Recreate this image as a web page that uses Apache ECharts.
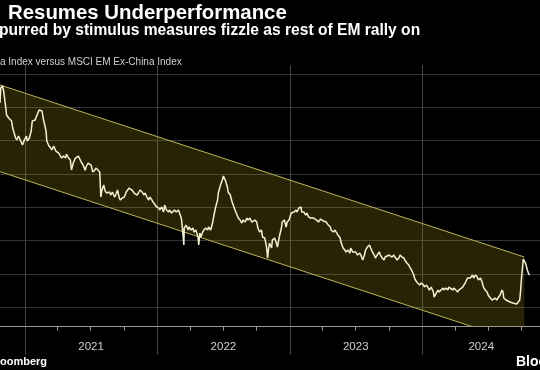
<!DOCTYPE html>
<html><head><meta charset="utf-8">
<script src="https://cdn.jsdelivr.net/npm/echarts@6/dist/echarts.min.js"></script>
<style>html,body{margin:0;padding:0;background:#000;}#c{width:540px;height:370px;}</style>
</head><body><div id="c"></div>
<script>
// ---- text ----
const titleText = 'Resumes Underperformance';
const subtitleText = 'purred by stimulus measures fizzle as rest of EM rally on';
const noteText = 'a Index versus MSCI EM Ex-China Index';
const sourceText = 'oomberg';
const brandText = 'Bloomberg';

// ---- axes ----
const axisStart = '2020-10-24';
const axisEnd = '2024-11-21';
const yearStarts = ['2021-01-01', '2022-01-01', '2023-01-01', '2024-01-01'];
const quarterTicks = ['2021-04-01', '2021-07-01', '2021-10-01', '2022-04-01', '2022-07-01', '2022-10-01',
  '2023-04-01', '2023-07-01', '2023-10-01', '2024-04-01', '2024-07-01', '2024-10-01'];
const yearLabelAt = ['2021-07-02', '2022-07-02', '2023-07-02', '2024-06-12'];
const gridValues = [1, 2, 3, 4, 5, 6, 7, 8];
const yMin = 0.42;
const yMax = 8.27;

// ---- trend channel ----
const bandDates = ['2020-10-24', '2024-10-09'];
const bandLower = [5.07, -0.09];
const bandUpper = [7.67, 2.51];

// ---- MSCI China vs MSCI EM ex-China (relative) ----
const dates = [
  '2020-10-24','2020-10-26','2020-10-31','2020-11-03','2020-11-09','2020-11-11','2020-11-17','2020-11-25','2020-11-28','2020-12-06',
  '2020-12-09','2020-12-14','2020-12-19','2020-12-25','2020-12-30',
  '2021-01-05','2021-01-07','2021-01-13','2021-01-18','2021-01-21','2021-01-29','2021-02-03','2021-02-09','2021-02-17','2021-02-20',
  '2021-02-28','2021-03-02','2021-03-08','2021-03-13','2021-03-16','2021-03-21','2021-03-27','2021-04-04','2021-04-12','2021-04-17',
  '2021-04-23','2021-04-25','2021-05-01','2021-05-06','2021-05-09','2021-05-14','2021-05-20','2021-05-28',
  '2021-06-02','2021-06-05','2021-06-10','2021-06-16','2021-06-18','2021-06-24','2021-06-29','2021-07-02','2021-07-07','2021-07-13',
  '2021-07-15','2021-07-21','2021-07-26','2021-07-29','2021-08-01','2021-08-06','2021-08-09','2021-08-14','2021-08-22','2021-08-25',
  '2021-08-30','2021-09-05','2021-09-08','2021-09-13','2021-09-18','2021-09-21','2021-09-26','2021-10-02','2021-10-07','2021-10-15',
  '2021-10-18','2021-10-23','2021-10-29','2021-11-01','2021-11-06','2021-11-11','2021-11-14','2021-11-20','2021-11-25','2021-11-28',
  '2021-12-03','2021-12-08','2021-12-11','2021-12-17','2021-12-22','2021-12-30',
  '2022-01-05','2022-01-07','2022-01-13','2022-01-18','2022-01-21','2022-01-26','2022-02-01','2022-02-03','2022-02-09','2022-02-14',
  '2022-02-17','2022-02-22','2022-02-28','2022-03-02','2022-03-08','2022-03-11','2022-03-15','2022-03-16','2022-03-21','2022-03-27',
  '2022-03-29','2022-04-04','2022-04-09','2022-04-12','2022-04-17','2022-04-23','2022-04-25','2022-04-28','2022-05-01','2022-05-06',
  '2022-05-09','2022-05-14','2022-05-20','2022-05-22','2022-05-28','2022-06-02','2022-06-05','2022-06-10','2022-06-16','2022-06-18',
  '2022-06-24','2022-06-29','2022-07-02','2022-07-07','2022-07-13','2022-07-15','2022-07-21','2022-07-26','2022-08-03',
  '2022-08-12','2022-08-17','2022-08-22','2022-08-25','2022-08-31','2022-09-05','2022-09-08','2022-09-13','2022-09-18','2022-09-21',
  '2022-09-27','2022-10-02','2022-10-05','2022-10-10','2022-10-15','2022-10-18','2022-10-24','2022-10-29','2022-11-01','2022-11-03',
  '2022-11-06','2022-11-12','2022-11-14','2022-11-20','2022-11-25','2022-11-28','2022-12-03','2022-12-09','2022-12-11','2022-12-17',
  '2022-12-22','2022-12-25','2022-12-30','2023-01-05','2023-01-07','2023-01-13','2023-01-18','2023-01-21','2023-01-26','2023-02-01',
  '2023-02-03','2023-02-09','2023-02-14','2023-02-17','2023-02-22','2023-02-28','2023-03-08',
  '2023-03-16','2023-03-21','2023-03-27','2023-04-04','2023-04-12','2023-04-17','2023-04-23','2023-04-25','2023-05-01','2023-05-06',
  '2023-05-09','2023-05-14','2023-05-20','2023-05-22','2023-05-28','2023-06-02','2023-06-05','2023-06-10','2023-06-16','2023-06-18',
  '2023-06-24','2023-06-29','2023-07-02','2023-07-07','2023-07-13','2023-07-16','2023-07-21','2023-07-26','2023-07-29','2023-08-03',
  '2023-08-09','2023-08-12','2023-08-17','2023-08-22','2023-08-25','2023-08-30','2023-09-05','2023-09-08','2023-09-13','2023-09-18',
  '2023-09-21','2023-10-02','2023-10-10',
  '2023-10-15','2023-10-18','2023-10-24','2023-10-29','2023-11-01','2023-11-06','2023-11-12','2023-11-14','2023-11-20','2023-11-25',
  '2023-11-28','2023-12-03','2023-12-09','2023-12-11','2023-12-17','2023-12-22','2023-12-25','2023-12-30','2024-01-05','2024-01-07',
  '2024-01-13','2024-01-18','2024-01-21','2024-01-26','2024-02-01','2024-02-03','2024-02-09','2024-02-14','2024-02-17','2024-02-22',
  '2024-02-28','2024-03-01','2024-03-07','2024-03-12','2024-03-15','2024-03-20','2024-03-26','2024-03-28','2024-04-03','2024-04-08',
  '2024-04-11','2024-04-16','2024-04-22','2024-04-25','2024-04-30','2024-05-05','2024-05-08','2024-05-13',
  '2024-05-19','2024-05-22','2024-05-27','2024-06-01','2024-06-04','2024-06-10','2024-06-15','2024-06-18','2024-06-23','2024-06-28',
  '2024-07-01','2024-07-07','2024-07-12','2024-07-15','2024-07-20','2024-07-25','2024-07-28','2024-08-03','2024-08-08','2024-08-11',
  '2024-08-13','2024-08-19','2024-08-24','2024-08-30','2024-09-04','2024-09-07','2024-09-12','2024-09-18','2024-09-20','2024-09-26',
  '2024-09-28','2024-10-01','2024-10-04','2024-10-06','2024-10-09','2024-10-12','2024-10-15','2024-10-17','2024-10-20','2024-10-23'
];
const ratio = [
  7.13,7.58,7.64,7.49,6.98,6.77,6.68,6.59,6.38,6.08,
  6.02,6.14,6.14,5.87,6.02,
  6.14,5.99,6.08,6.29,6.59,6.62,6.77,6.92,6.89,6.68,
  6.29,5.99,5.84,5.78,5.72,5.84,5.69,5.63,5.48,5.54,
  5.48,5.60,5.48,5.42,5.12,5.33,5.48,5.54,
  5.51,5.36,5.27,5.11,5.21,5.33,5.36,5.27,5.06,5.12,
  5.18,5.12,5.06,4.31,4.52,4.67,4.52,4.43,4.46,4.37,
  4.46,4.31,4.37,4.52,4.28,4.22,4.28,4.31,4.46,4.58,
  4.61,4.52,4.43,4.46,4.37,4.46,4.52,4.46,4.37,4.43,
  4.31,4.22,4.31,4.22,4.13,4.01,
  3.98,3.92,4.01,3.86,4.07,3.92,3.86,3.92,3.83,3.86,
  3.92,3.86,3.92,3.86,3.68,3.38,2.87,3.38,3.47,3.32,
  3.41,3.32,3.38,3.26,3.32,3.11,2.87,3.23,3.11,3.26,
  3.32,3.38,3.32,3.41,3.32,3.53,3.71,3.98,4.22,4.43,
  4.67,4.82,4.94,4.82,4.61,4.46,4.37,4.16,3.92,
  3.68,3.62,3.53,3.62,3.56,3.68,3.62,3.68,3.56,3.53,
  3.62,3.56,3.38,3.26,3.32,3.11,3.08,2.81,2.48,2.72,
  2.93,2.78,3.02,3.08,2.93,2.81,3.11,3.38,3.56,3.62,
  3.41,3.56,3.62,3.83,3.86,3.86,3.92,3.86,3.98,4.01,
  3.86,3.86,3.77,3.83,3.71,3.68,3.68,
  3.62,3.56,3.65,3.59,3.56,3.47,3.41,3.32,3.26,3.32,
  3.26,3.17,3.08,2.96,2.78,2.72,2.66,2.72,2.63,2.78,
  2.66,2.63,2.66,2.57,2.63,2.57,2.42,2.57,2.72,2.81,
  2.87,2.78,2.66,2.57,2.48,2.57,2.66,2.57,2.48,2.42,
  2.51,2.57,2.51,
  2.57,2.51,2.42,2.48,2.57,2.51,2.48,2.42,2.33,2.27,
  2.21,2.12,1.97,1.88,1.76,1.73,1.67,1.73,1.67,1.61,
  1.67,1.58,1.52,1.61,1.46,1.31,1.43,1.52,1.46,1.52,
  1.58,1.52,1.58,1.52,1.61,1.58,1.52,1.58,1.52,1.46,
  1.52,1.52,1.61,1.67,1.76,1.88,1.91,1.88,
  1.97,1.88,1.97,1.91,1.82,1.88,1.73,1.61,1.52,1.46,
  1.37,1.28,1.22,1.25,1.28,1.22,1.28,1.37,1.52,1.46,
  1.28,1.22,1.19,1.16,1.13,1.13,1.13,1.10,1.13,1.22,
  1.43,1.88,2.21,2.45,2.48,2.33,2.21,2.12,2.03,1.97
];

function ts(s) { const p = s.split('-').map(Number); return new Date(p[0], p[1] - 1, p[2]).getTime(); }

const FONT = '"Liberation Sans", Arial, sans-serif';
const EDGE = '#bdb55a';
const chart = echarts.init(document.getElementById('c'), null, { renderer: 'canvas' });
chart.setOption({
  backgroundColor: '#000',
  animation: false,
  grid: { left: 0, right: -11, top: 65, bottom: 43.3, containLabel: false },
  xAxis: [
    {
      type: 'value', min: ts(axisStart), max: ts(axisEnd), position: 'bottom',
      axisLine: { show: true, onZero: false, lineStyle: { color: '#9a9a9a', width: 1 } },
      axisTick: { show: true, customValues: yearStarts.map(ts), length: 28, lineStyle: { color: '#444444', width: 1 } },
      splitLine: { show: true, lineStyle: { color: '#444444', width: 1 } },
      axisLabel: {
        show: true, customValues: yearLabelAt.map(ts), margin: 14,
        formatter: v => String(new Date(v).getFullYear()),
        color: '#d0d0d0', fontSize: 11.5, fontFamily: FONT
      }
    },
    {
      type: 'value', min: ts(axisStart), max: ts(axisEnd), position: 'bottom',
      axisLine: { show: false, onZero: false },
      axisTick: { show: true, customValues: quarterTicks.map(ts), length: 4, lineStyle: { color: '#9a9a9a', width: 1 } },
      splitLine: { show: false },
      axisLabel: { show: false }
    }
  ],
  yAxis: {
    type: 'value', min: yMin, max: yMax, position: 'right',
    axisLine: { show: false },
    axisTick: { show: false, customValues: gridValues },
    axisLabel: { show: false, customValues: gridValues },
    splitLine: { show: true, lineStyle: { color: '#353535', width: 1 } }
  },
  graphic: [
    { type: 'text', left: 8, top: 3, style: { text: titleText, fill: '#ffffff', font: 'bold 20.4px ' + FONT } },
    { type: 'text', left: -1, top: 23, style: { text: subtitleText, fill: '#ffffff', font: 'bold 15.6px ' + FONT } },
    { type: 'text', left: 0, top: 57, style: { text: noteText, fill: '#d0d0d0', font: '10px ' + FONT } },
    { type: 'text', left: 0, top: 356, style: { text: sourceText, fill: '#ffffff', font: 'bold 11px ' + FONT } },
    { type: 'text', left: 516, top: 355, style: { text: brandText, fill: '#ffffff', font: 'bold 14px ' + FONT } }
  ],
  series: [
    {
      type: 'custom', silent: true, z: 1, clip: true,
      data: [[ts(bandDates[0]), bandLower[0], bandUpper[0], ts(bandDates[1]), bandLower[1], bandUpper[1]]],
      encode: { x: [0, 3], y: [1, 2, 4, 5] },
      renderItem: (params, api) => {
        const ul = api.coord([api.value(0), api.value(2)]);
        const ur = api.coord([api.value(3), api.value(5)]);
        const lr = api.coord([api.value(3), api.value(4)]);
        const ll = api.coord([api.value(0), api.value(1)]);
        const cs = params.coordSys;
        return {
          type: 'group',
          clipPath: { type: 'rect', shape: { x: cs.x, y: cs.y, width: cs.width, height: cs.height } },
          children: [
            { type: 'polygon', shape: { points: [ul, ur, lr, ll] }, style: { fill: 'rgba(165,155,18,0.23)' } },
            { type: 'polyline', shape: { points: [ul, ur] }, style: { stroke: EDGE, lineWidth: 1, fill: null } },
            { type: 'polyline', shape: { points: [ll, lr] }, style: { stroke: EDGE, lineWidth: 1, fill: null } }
          ]
        };
      }
    },
    {
      type: 'line', symbol: 'none', silent: true, z: 3,
      data: dates.map((d, i) => [ts(d), ratio[i]]),
      lineStyle: { color: '#f4f0d4', width: 1.5 }
    }
  ]
});
</script>
</body></html>
